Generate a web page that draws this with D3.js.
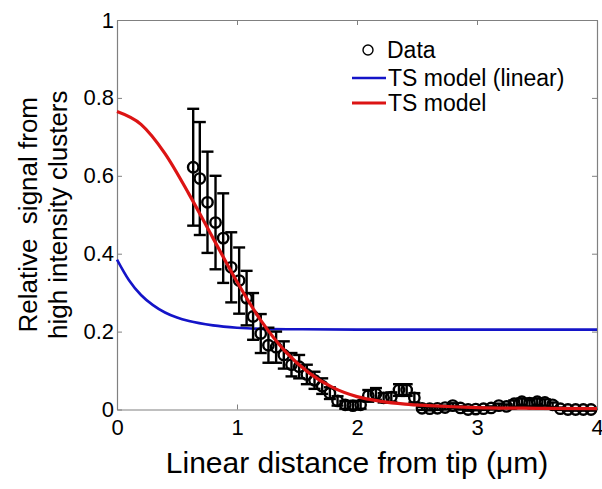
<!DOCTYPE html>
<html>
<head>
<meta charset="utf-8">
<script src="https://cdn.jsdelivr.net/npm/d3@7/dist/d3.min.js"></script>
<style>
  body { margin: 0; background: #fff; }
  text { font-family: "Liberation Sans", Arial, sans-serif; fill: #000; }
</style>
</head>
<body>
<div id="chart"></div>
<script>
// measured data (distance in um, relative signal, error bar half-length)
const dataX = [0.635, 0.690, 0.754, 0.821, 0.885, 0.952, 1.018, 1.080, 1.134, 1.198,
  1.262, 1.326, 1.390, 1.454, 1.518, 1.582, 1.646, 1.710, 1.774, 1.838,
  1.902, 1.966, 2.030, 2.094, 2.158, 2.222, 2.286, 2.350, 2.414, 2.478,
  2.542, 2.606, 2.670, 2.734, 2.798, 2.862, 2.926, 2.990, 3.054, 3.118,
  3.182, 3.246, 3.310, 3.374, 3.438, 3.502, 3.566, 3.630, 3.694, 3.758,
  3.822, 3.886, 3.950];
const dataY = [0.622, 0.593, 0.532, 0.480, 0.440, 0.365, 0.331, 0.286, 0.239, 0.195,
  0.165, 0.160, 0.140, 0.115, 0.110, 0.090, 0.075, 0.060, 0.042, 0.022,
  0.012, 0.010, 0.012, 0.035, 0.040, 0.030, 0.032, 0.050, 0.050, 0.030,
  0.003, 0.002, 0.003, 0.005, 0.010, 0.004, 0.000, 0.001, 0.002, 0.004,
  0.010, 0.008, 0.015, 0.020, 0.016, 0.020, 0.018, 0.012, 0.002, 0.000,
  0.000, 0.000, 0.000];
const dataErr = [0.150, 0.145, 0.130, 0.120, 0.115, 0.090, 0.085, 0.070, 0.060, 0.050,
  0.045, 0.040, 0.035, 0.030, 0.030, 0.025, 0.022, 0.020, 0.015, 0.012,
  0.010, 0.010, 0.010, 0.015, 0.015, 0.012, 0.012, 0.015, 0.015, 0.012,
  0.004, 0.004, 0.004, 0.005, 0.006, 0.004, 0.003, 0.003, 0.003, 0.004,
  0.005, 0.005, 0.008, 0.008, 0.008, 0.008, 0.008, 0.006, 0.003, 0.003,
  0.003, 0.003, 0.003];

// model curves
const linX = [0, 0.1, 0.2, 0.3, 0.4, 0.5, 0.6, 0.8, 1.0, 1.2, 1.5, 2, 3, 4];
const linY = [0.385, 0.332, 0.294, 0.268, 0.249, 0.236, 0.227, 0.216, 0.210, 0.207, 0.206, 0.205, 0.205, 0.205];
const tsX = [0, 0.2, 0.4, 0.6, 0.8, 1.0, 1.2, 1.4, 1.6, 1.8, 2.0, 2.2, 2.4, 2.6, 2.8, 3.0, 3.5, 4.0];
const tsY = [0.765, 0.732, 0.657, 0.553, 0.440, 0.328, 0.228, 0.150, 0.094, 0.056, 0.033, 0.021, 0.014, 0.010, 0.007, 0.005, 0.003, 0.002];

const xTicks = [0, 1, 2, 3, 4];
const yTicks = [0, 0.2, 0.4, 0.6, 0.8, 1];

const W = 602, H = 489;
const mLeft = 117, mRight = 597, mTop = 20, mBottom = 409.5;

const svg = d3.select("#chart").append("svg")
  .attr("width", W).attr("height", H);
svg.append("rect").attr("width", W).attr("height", H).attr("fill", "#fff");

const x = d3.scaleLinear().domain([0, 4]).range([mLeft, mRight]);
const y = d3.scaleLinear().domain([0, 1]).range([mBottom, mTop]);

// axes (box with inward ticks)
const axisColor = "#808080";
function styleAxis(g) {
  g.select(".domain").attr("stroke", axisColor).attr("stroke-width", 1.2);
  g.selectAll(".tick line").attr("stroke", axisColor);
  g.selectAll(".tick text").attr("font-size", "22px")
    .attr("font-family", "Liberation Sans, Arial, sans-serif").attr("fill", "#000");
}
svg.append("g").attr("transform", `translate(0,${mBottom})`)
  .call(d3.axisBottom(x).tickValues(xTicks).tickSizeInner(-5).tickSizeOuter(0).tickPadding(10).tickFormat(d3.format("d")))
  .call(styleAxis);
svg.append("g").attr("transform", `translate(0,${mTop})`)
  .call(d3.axisTop(x).tickValues(xTicks).tickSizeInner(-5).tickSizeOuter(0).tickFormat(""))
  .call(styleAxis);
svg.append("g").attr("transform", `translate(${mLeft},0)`)
  .call(d3.axisLeft(y).tickValues(yTicks).tickSizeInner(-5).tickSizeOuter(0).tickPadding(3).tickFormat(d => d === 0 || d === 1 ? d3.format("d")(d) : d3.format(".1f")(d)))
  .call(styleAxis);
svg.append("g").attr("transform", `translate(${mRight},0)`)
  .call(d3.axisRight(y).tickValues(yTicks).tickSizeInner(-5).tickSizeOuter(0).tickFormat(""))
  .call(styleAxis);

// model curves
const line = d3.line().x(d => x(d[0])).y(d => y(d[1])).curve(d3.curveMonotoneX);
svg.append("path").datum(d3.zip(linX, linY))
  .attr("d", line).attr("fill", "none").attr("stroke", "#1414c8").attr("stroke-width", 2.6);

// data with error bars
const pts = dataX.map((d, i) => ({x: d, y: dataY[i], e: dataErr[i]}));
const eb = svg.append("g").attr("stroke", "#000").attr("stroke-width", 2.4).attr("fill", "none");
pts.forEach(p => {
  eb.append("line").attr("x1", x(p.x)).attr("x2", x(p.x))
    .attr("y1", y(p.y - p.e)).attr("y2", y(p.y + p.e));
  [p.y - p.e, p.y + p.e].forEach(v => {
    eb.append("line").attr("x1", x(p.x) - 6).attr("x2", x(p.x) + 6)
      .attr("y1", y(v)).attr("y2", y(v));
  });
  eb.append("circle").attr("cx", x(p.x)).attr("cy", y(p.y)).attr("r", 5.2);
});

svg.append("path").datum(d3.zip(tsX, tsY))
  .attr("d", line).attr("fill", "none").attr("stroke", "#dc1414").attr("stroke-width", 3.2);

// legend
const lg = svg.append("g");
lg.append("circle").attr("cx", 368).attr("cy", 50).attr("r", 5)
  .attr("fill", "none").attr("stroke", "#000").attr("stroke-width", 1.4);
lg.append("text").attr("x", 387).attr("y", 50).attr("dy", "0.35em").attr("font-size", "23px").text("Data");
lg.append("line").attr("x1", 352).attr("x2", 386).attr("y1", 78).attr("y2", 78)
  .attr("stroke", "#1414c8").attr("stroke-width", 2.6);
lg.append("text").attr("x", 388).attr("y", 78).attr("dy", "0.35em").attr("font-size", "23px").text("TS model (linear)");
lg.append("line").attr("x1", 352).attr("x2", 386).attr("y1", 103).attr("y2", 103)
  .attr("stroke", "#dc1414").attr("stroke-width", 3.2);
lg.append("text").attr("x", 388).attr("y", 103).attr("dy", "0.35em").attr("font-size", "23px").text("TS model");

// axis titles
svg.append("text").attr("x", (mLeft + mRight) / 2).attr("y", 473)
  .attr("text-anchor", "middle").attr("font-size", "30px")
  .text("Linear distance from tip (\u03bcm)");
const yt = svg.append("text").attr("transform", `translate(0,${(mTop + mBottom) / 2}) rotate(-90)`)
  .attr("text-anchor", "middle").attr("font-size", "26px");
yt.append("tspan").attr("x", 0).attr("y", 37).attr("xml:space", "preserve").text("Relative  signal from");
yt.append("tspan").attr("x", 0).attr("y", 67).text("high intensity clusters");
</script>
</body>
</html>
